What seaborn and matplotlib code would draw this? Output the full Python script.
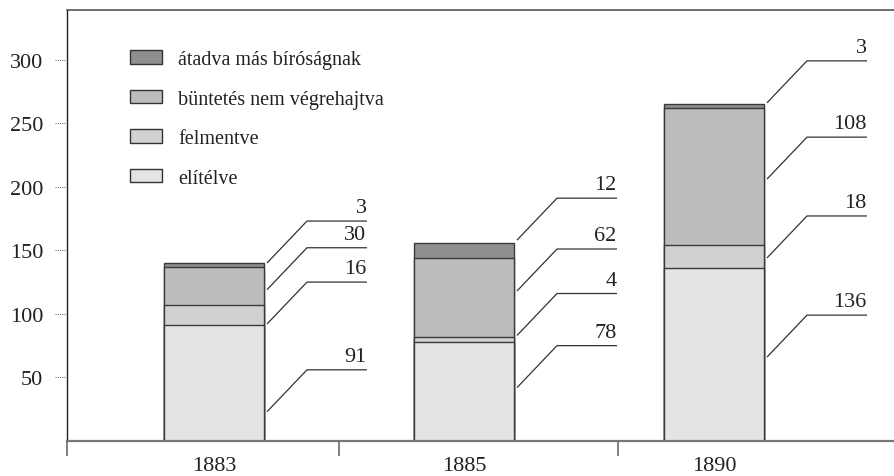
import pandas as pd
import matplotlib
matplotlib.use("Agg")
import matplotlib.pyplot as plt
import matplotlib.transforms as mtransforms
from matplotlib.patches import Patch
import seaborn as sns

# data
years = ["1883", "1885", "1890"]
elitelve = [91, 78, 136]
felmentve = [16, 4, 18]
nem_vegrehajtva = [30, 62, 108]
atadva = [3, 12, 3]

layer_names = ["elítélve", "felmentve", "büntetés nem végrehajtva", "átadva más bíróságnak"]
layer_colors = ["#e4e4e5", "#d0d1d3", "#bbbcbe", "#8f8f92"]
y_ticks = [50, 100, 150, 200, 250, 300]

# where each leader line touches its bar (data units), bottom layer first
leader_y = [[23, 92, 119, 140],
            [42, 83, 118, 158],
            [66, 144, 206, 266]]

sns.set_style("white")
plt.rcParams["font.family"] = ["Liberation Serif", "DejaVu Serif"]

df = pd.DataFrame({"year": years, "elitelve": elitelve, "felmentve": felmentve,
                   "nem": nem_vegrehajtva, "atadva": atadva})
layers = [elitelve, felmentve, nem_vegrehajtva, atadva]
cols = ["elitelve", "felmentve", "nem", "atadva"]
cum = df[cols].cumsum(axis=1)

fig = plt.figure(figsize=(8.94, 4.77), dpi=100)
ax = fig.add_axes([67 / 894, 35 / 477, 827 / 894, 431 / 477])

# stacked bars: draw running totals from the top layer down
for col, color in reversed(list(zip(cols, layer_colors))):
    sns.barplot(x=df["year"], y=cum[col], color=color, saturation=1, width=0.4,
                edgecolor="#3a3a3a", linewidth=1, errorbar=None, ax=ax)

ax.set_xlim(-0.588, 2.72)
ax.set_ylim(0, 339)
ax.set_xlabel("")
ax.set_ylabel("")

# value labels with leader lines
for i in range(len(years)):
    xr = i + 0.2
    for j, lay in enumerate(layers):
        ya = leader_y[i][j]
        yl = ya + 33
        ax.plot([xr + 0.012, xr + 0.172, xr + 0.412], [ya, yl, yl],
                color="#333333", lw=0.9, solid_capstyle="butt", clip_on=False)
        ax.text(xr + 0.41, yl + 3, str(lay[i]), ha="right", va="bottom",
                fontsize=16, color="#222222")

# axes styling
ax.spines["right"].set_visible(False)
ax.spines["top"].set_color("#555555")
ax.spines["top"].set_linewidth(1.2)
ax.spines["left"].set_color("#222222")
ax.spines["left"].set_linewidth(1)
ax.spines["bottom"].set_color("#777777")
ax.spines["bottom"].set_linewidth(1.6)

ax.set_yticks(y_ticks)
ax.set_yticklabels([str(t) for t in y_ticks], fontsize=16, color="#222222")
ax.tick_params(axis="y", length=0, pad=17)
tr = mtransforms.blended_transform_factory(ax.transAxes, ax.transData)
for t in y_ticks:
    ax.plot([-0.0145, -0.0024], [t, t], ls=(0, (1, 1)), lw=0.8, color="#777777",
            transform=tr, clip_on=False)

ax.set_xticks([0, 1, 2])
ax.set_xticklabels(years, fontsize=16, color="#222222")
ax.tick_params(axis="x", which="major", bottom=True, length=0, pad=11)
ax.set_xticks([-0.588, 0.5, 1.616], minor=True)
ax.tick_params(axis="x", which="minor", bottom=True, length=11, width=1.3,
               color="#777777", direction="out")

handles = [Patch(facecolor=c, edgecolor="#333333", linewidth=1) for c in layer_colors]
leg = ax.legend(handles[::-1], layer_names[::-1], loc="upper left",
                bbox_to_anchor=(130 / 894, 1 - 51 / 477), bbox_transform=fig.transFigure,
                frameon=False, fontsize=14.5, handlelength=1.6, handleheight=0.65,
                handletextpad=0.8, labelspacing=1.02, borderpad=0, borderaxespad=0)
for txt in leg.get_texts():
    txt.set_color("#222222")

fig.savefig("out.png", dpi=100)
